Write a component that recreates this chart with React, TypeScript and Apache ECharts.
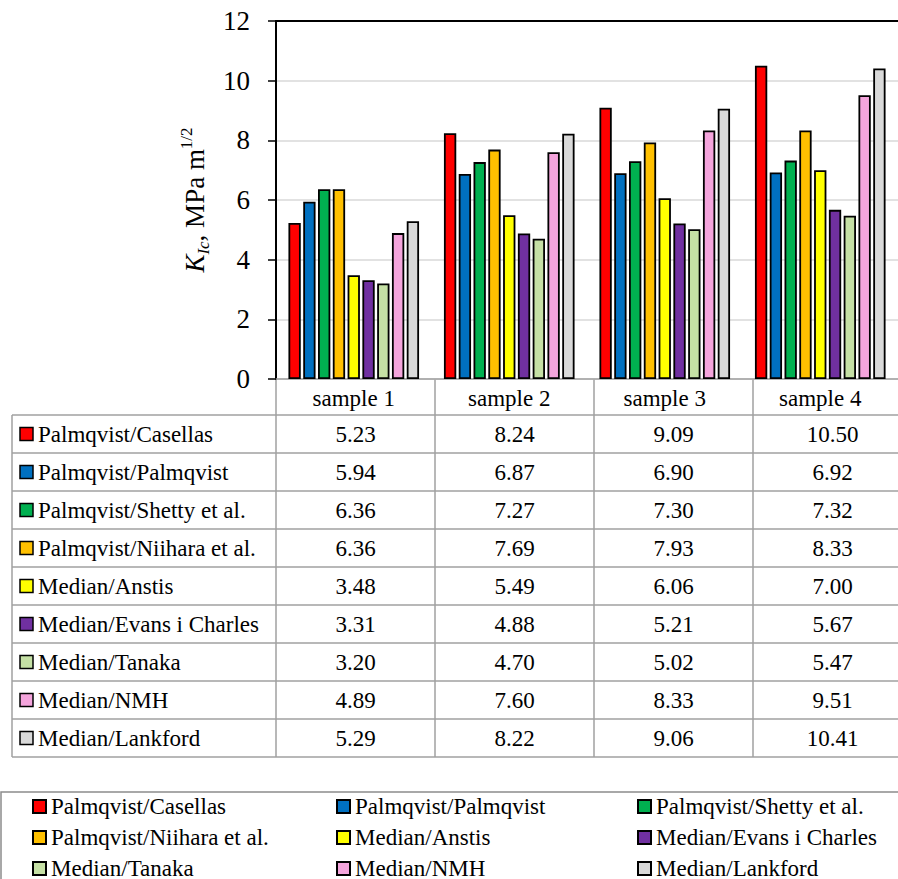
import React, { useEffect, useRef } from "react";
import * as echarts from "echarts";

const categories = ["sample 1", "sample 2", "sample 3", "sample 4"];
const seriesNames = [
  "Palmqvist/Casellas",
  "Palmqvist/Palmqvist",
  "Palmqvist/Shetty et al.",
  "Palmqvist/Niihara et al.",
  "Median/Anstis",
  "Median/Evans i Charles",
  "Median/Tanaka",
  "Median/NMH",
  "Median/Lankford",
];
const casellas = [5.23, 8.24, 9.09, 10.5];
const palmqvist = [5.94, 6.87, 6.9, 6.92];
const shetty = [6.36, 7.27, 7.3, 7.32];
const niihara = [6.36, 7.69, 7.93, 8.33];
const anstis = [3.48, 5.49, 6.06, 7.0];
const evans = [3.31, 4.88, 5.21, 5.67];
const tanaka = [3.2, 4.7, 5.02, 5.47];
const nmh = [4.89, 7.6, 8.33, 9.51];
const lankford = [5.29, 8.22, 9.06, 10.41];
const seriesValues = [casellas, palmqvist, shetty, niihara, anstis, evans, tanaka, nmh, lankford];
const colors = [
  "#ff0000",
  "#0070c0",
  "#00b050",
  "#ffc000",
  "#ffff00",
  "#7030a0",
  "#c5e0a5",
  "#f4a4dc",
  "#d9d9d9",
];
const yTicks = { min: 0, max: 12, interval: 2 };

const FONT = "Liberation Serif";
const TXT = 23;
const GRID_LEFT = 276;
const GRID_TOP = 21;
const GRID_W = 636;
const GRID_H = 358;
const HEADER_H = 36;
const ROW_H = 38;
const TABLE_LEFT = 12;
const TABLE_GRAY = "#a0a0a0";

export default function App() {
  const ref = useRef<HTMLDivElement>(null);
  useEffect(() => {
    if (!ref.current) return;
    const chart = echarts.init(ref.current, null, { renderer: "svg" });
    const catW = GRID_W / categories.length;
    const axisY = GRID_TOP + GRID_H;
    const tableTop = axisY + HEADER_H;
    const tableRight = GRID_LEFT + GRID_W;
    const tableBottom = tableTop + ROW_H * seriesNames.length;

    const graphics: any[] = [];
    for (let r = 0; r <= seriesNames.length; r++) {
      const y = tableTop + r * ROW_H;
      graphics.push({
        type: "line",
        shape: { x1: TABLE_LEFT, y1: y, x2: tableRight, y2: y },
        style: { stroke: TABLE_GRAY, lineWidth: 1.5 },
      });
    }
    graphics.push({
      type: "line",
      shape: { x1: TABLE_LEFT, y1: tableTop, x2: TABLE_LEFT, y2: tableBottom },
      style: { stroke: TABLE_GRAY, lineWidth: 1.5 },
    });
    for (let c = 0; c <= categories.length; c++) {
      const x = GRID_LEFT + c * catW;
      graphics.push({
        type: "line",
        shape: { x1: x, y1: axisY, x2: x, y2: tableBottom },
        style: { stroke: TABLE_GRAY, lineWidth: 1.5 },
      });
    }
    seriesNames.forEach((name, r) => {
      const cy = tableTop + r * ROW_H + ROW_H / 2;
      graphics.push({
        type: "rect",
        shape: { x: 20, y: cy - 6.5, width: 13, height: 13 },
        style: { fill: colors[r], stroke: "#000", lineWidth: 1.5 },
      });
      graphics.push({
        type: "text",
        x: 38,
        y: cy,
        style: {
          text: name,
          fontFamily: FONT,
          fontSize: TXT,
          fill: "#000",
          align: "left",
          verticalAlign: "middle",
        },
      });
      seriesValues[r].forEach((v, c) => {
        graphics.push({
          type: "text",
          x: GRID_LEFT + c * catW + catW / 2,
          y: cy,
          style: {
            text: v.toFixed(2),
            fontFamily: FONT,
            fontSize: TXT,
            fill: "#000",
            align: "center",
            verticalAlign: "middle",
          },
        });
      });
    });
    graphics.push({
      type: "rect",
      shape: { x: 1, y: 792, width: 940, height: 140 },
      style: { fill: "none", stroke: "#8c8c8c", lineWidth: 1.5 },
    });

    const legendCols = [0, 1, 2].map((col) => ({
      orient: "vertical",
      left: [32, 336, 637][col],
      top: 795,
      height: 120,
      padding: 0,
      itemWidth: 13,
      itemHeight: 13,
      itemGap: 8,
      icon: "rect",
      data: [seriesNames[col], seriesNames[col + 3], seriesNames[col + 6]],
      textStyle: {
        fontFamily: FONT,
        fontSize: TXT,
        lineHeight: 22,
        color: "#000",
      },
    }));

    chart.setOption({
      animation: false,
      textStyle: { fontFamily: FONT },
      grid: { left: GRID_LEFT, top: GRID_TOP, width: GRID_W, height: GRID_H },
      legend: legendCols,
      xAxis: [
        {
          type: "category",
          data: categories,
          axisLine: { show: true, lineStyle: { color: TABLE_GRAY, width: 1.5 } },
          axisTick: { show: false },
          axisLabel: { fontFamily: FONT, fontSize: TXT, color: "#000", margin: 8, interval: 0 },
        },
        {
          type: "category",
          position: "top",
          data: categories,
          axisLine: { show: true, lineStyle: { color: "#000", width: 2 } },
          axisTick: { show: false },
          axisLabel: { show: false },
        },
      ],
      yAxis: {
        type: "value",
        min: yTicks.min,
        max: yTicks.max,
        interval: yTicks.interval,
        name: "{k|K}{sub|Ic}{n|, MPa m}{sup|1/2}",
        nameLocation: "middle",
        nameRotate: 90,
        nameGap: 56,
        nameTextStyle: {
          rich: {
            k: { fontFamily: FONT, fontStyle: "italic", fontSize: 27, lineHeight: 34, color: "#000" },
            sub: { fontFamily: FONT, fontStyle: "italic", fontSize: 17, lineHeight: 17, verticalAlign: "bottom", color: "#000" },
            n: { fontFamily: FONT, fontSize: 27, lineHeight: 27, color: "#000" },
            sup: { fontFamily: FONT, fontSize: 17, lineHeight: 17, verticalAlign: "top", color: "#000" },
          },
        },
        axisLine: { show: true, lineStyle: { color: "#000", width: 2 } },
        axisTick: { show: true, length: 8, lineStyle: { color: "#000", width: 1.5 } },
        axisLabel: { fontFamily: FONT, fontSize: 27, color: "#000", margin: 26 },
        splitLine: { lineStyle: { color: "#d9d9d9", width: 1.5 } },
      },
      series: seriesNames.map((name, i) => ({
        name,
        type: "bar",
        data: seriesValues[i],
        barCategoryGap: "16%",
        barGap: "20%",
        itemStyle: { color: colors[i], borderColor: "#000", borderWidth: 1.8 },
      })),
      graphic: graphics,
    });
    return () => chart.dispose();
  }, []);
  return (
    <div
      ref={ref}
      style={{ position: "absolute", left: 0, top: 0, width: 898, height: 879, background: "#fff" }}
    />
  );
}
